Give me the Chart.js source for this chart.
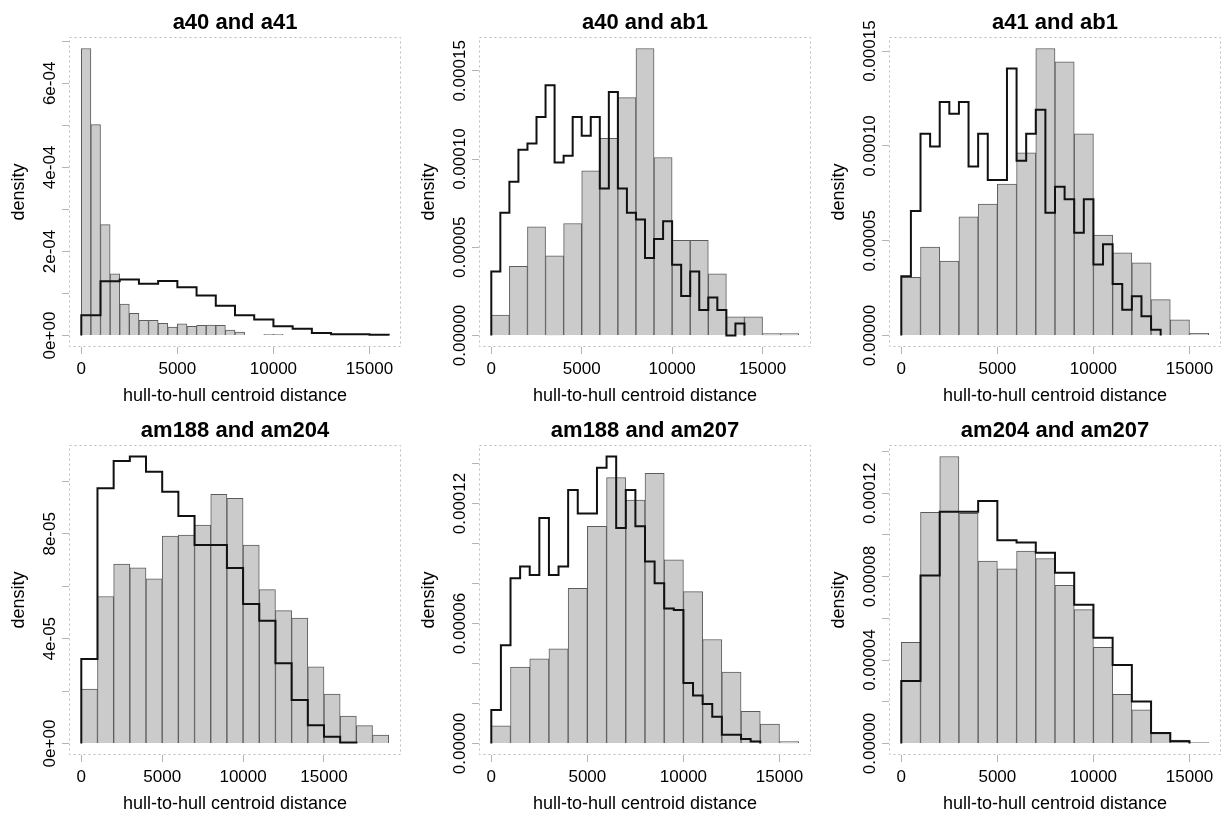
<!DOCTYPE html>
<html>
<head>
<meta charset="utf-8">
<script src="https://cdn.jsdelivr.net/npm/chart.js@4.4.1/dist/chart.umd.min.js"></script>
<style>
    body { margin: 0; background: #fff; width: 1232px; height: 819px; position: relative; overflow: hidden; }
    canvas { position: absolute; }
</style>
</head>
<body>
<canvas id="p0" width="410" height="408" style="left:0px;top:0px"></canvas>
<canvas id="p1" width="410" height="408" style="left:410px;top:0px"></canvas>
<canvas id="p2" width="410" height="408" style="left:820px;top:0px"></canvas>
<canvas id="p3" width="410" height="408" style="left:0px;top:408px"></canvas>
<canvas id="p4" width="410" height="408" style="left:410px;top:408px"></canvas>
<canvas id="p5" width="410" height="408" style="left:820px;top:408px"></canvas>
<script>
// panel titles and histogram bin widths (grey bars / black outline)
const titles = ['a40 and a41', 'a40 and ab1', 'a41 and ab1', 'am188 and am204', 'am188 and am207', 'am204 and am207'];
const greyBinWidth = [500, 1000, 1000, 1000, 1000, 1000];
const blackBinWidth = [1000, 500, 500, 1000, 500, 1000];

// densities, one value per bin starting at 0
const a40a41Grey = [68.3e-5, 50.2e-5, 26.4e-5, 14.7e-5, 7.5e-5, 5.3e-5, 3.6e-5, 3.6e-5, 2.9e-5, 2.0e-5, 2.8e-5, 2.2e-5, 2.4e-5, 2.5e-5, 2.4e-5, 1.3e-5, 0.8e-5, 0, 0, 0.3e-5, 0.3e-5];
const a40a41Black = [4.8e-5, 12.9e-5, 13.3e-5, 12.3e-5, 13.0e-5, 11.5e-5, 9.5e-5, 7.1e-5, 4.8e-5, 3.8e-5, 2.2e-5, 1.6e-5, 0.6e-5, 0.3e-5, 0.3e-5, 0.2e-5];

const a40ab1Grey = [1.16e-5, 3.92e-5, 6.16e-5, 4.52e-5, 6.35e-5, 9.33e-5, 11.18e-5, 13.48e-5, 16.27e-5, 10.09e-5, 5.40e-5, 5.40e-5, 3.50e-5, 1.06e-5, 1.06e-5, 0.11e-5, 0.11e-5];
const a40ab1Black = [3.63e-5, 6.96e-5, 8.71e-5, 10.53e-5, 10.89e-5, 12.38e-5, 14.18e-5, 9.81e-5, 10.19e-5, 12.38e-5, 11.33e-5, 12.38e-5, 8.33e-5, 13.80e-5, 8.33e-5, 6.96e-5, 6.58e-5, 4.39e-5, 5.47e-5, 6.48e-5, 4.01e-5, 2.24e-5, 3.63e-5, 1.44e-5, 2.15e-5, 1.44e-5, 0, 0.68e-5];

const a41ab1Grey = [3.07e-5, 4.66e-5, 3.92e-5, 6.26e-5, 6.93e-5, 7.99e-5, 9.63e-5, 15.14e-5, 14.44e-5, 10.64e-5, 5.30e-5, 4.36e-5, 3.83e-5, 1.89e-5, 0.83e-5, 0.12e-5];
const a41ab1Black = [3.13e-5, 6.57e-5, 10.64e-5, 9.97e-5, 12.32e-5, 11.70e-5, 12.32e-5, 8.91e-5, 10.64e-5, 8.20e-5, 8.20e-5, 14.08e-5, 9.22e-5, 10.64e-5, 11.91e-5, 6.48e-5, 7.85e-5, 7.19e-5, 5.42e-5, 7.19e-5, 3.75e-5, 4.81e-5, 2.72e-5, 1.36e-5, 2.07e-5, 1.01e-5, 0.30e-5];

const am188am204Grey = [2.08e-5, 5.61e-5, 6.85e-5, 6.70e-5, 6.28e-5, 7.91e-5, 7.95e-5, 8.33e-5, 9.51e-5, 9.35e-5, 7.57e-5, 5.87e-5, 5.07e-5, 4.79e-5, 2.93e-5, 1.89e-5, 1.05e-5, 0.68e-5, 0.32e-5];
const am188am204Black = [3.22e-5, 9.74e-5, 10.78e-5, 10.95e-5, 10.37e-5, 9.60e-5, 8.68e-5, 7.57e-5, 7.57e-5, 6.70e-5, 5.32e-5, 4.68e-5, 3.06e-5, 1.66e-5, 0.70e-5, 0.26e-5, 0.04e-5];

const am188am207Grey = [0.89e-5, 3.82e-5, 4.24e-5, 4.74e-5, 7.76e-5, 10.86e-5, 13.29e-5, 12.17e-5, 13.51e-5, 9.18e-5, 7.59e-5, 5.20e-5, 3.57e-5, 1.61e-5, 0.97e-5, 0.10e-5];
const am188am207Black = [1.68e-5, 4.91e-5, 8.26e-5, 8.85e-5, 8.43e-5, 11.28e-5, 8.43e-5, 8.85e-5, 12.67e-5, 11.50e-5, 11.50e-5, 13.79e-5, 14.35e-5, 10.78e-5, 12.67e-5, 10.86e-5, 9.10e-5, 8.01e-5, 6.75e-5, 6.67e-5, 3.02e-5, 2.40e-5, 1.98e-5, 1.34e-5, 0.44e-5, 0.44e-5, 0.22e-5, 0.10e-5];

const am204am207Grey = [4.85e-5, 11.08e-5, 13.76e-5, 11.03e-5, 8.74e-5, 8.38e-5, 9.22e-5, 8.87e-5, 7.58e-5, 6.42e-5, 4.61e-5, 2.36e-5, 1.61e-5, 0.48e-5, 0.16e-5, 0.05e-5];
const am204am207Black = [3.00e-5, 8.06e-5, 11.11e-5, 11.11e-5, 11.63e-5, 9.75e-5, 9.64e-5, 9.14e-5, 8.19e-5, 6.65e-5, 5.07e-5, 3.77e-5, 2.02e-5, 0.51e-5, 0.11e-5];

// axis ticks
const xTickValues = [0, 5000, 10000, 15000];
const yTickStep = [1e-4, 5e-5, 5e-5, 2e-5, 2e-5, 2e-5];
const yLabelValues = [
    [0, 2e-4, 4e-4, 6e-4],
    [0, 5e-5, 1e-4, 1.5e-4],
    [0, 5e-5, 1e-4, 1.5e-4],
    [0, 4e-5, 8e-5],
    [0, 6e-5, 1.2e-4],
    [0, 4e-5, 8e-5, 1.2e-4]
];
const yLabelText = [
    ['0e+00', '2e-04', '4e-04', '6e-04'],
    ['0.00000', '0.00005', '0.00010', '0.00015'],
    ['0.00000', '0.00005', '0.00010', '0.00015'],
    ['0e+00', '4e-05', '8e-05'],
    ['0.00000', '0.00006', '0.00012'],
    ['0.00000', '0.00004', '0.00008', '0.00012']
];

const greySeries = [a40a41Grey, a40ab1Grey, a41ab1Grey, am188am204Grey, am188am207Grey, am204am207Grey];
const blackSeries = [a40a41Black, a40ab1Black, a41ab1Black, am188am204Black, am188am207Black, am204am207Black];

const family = '"Liberation Sans", Arial, Helvetica, sans-serif';
Chart.defaults.font.family = family;
Chart.defaults.color = '#000';

// faint dotted frame round the plot region
const plotBox = {
    id: 'plotBox',
    beforeDatasetsDraw(chart) {
        const a = chart.chartArea;
        const ctx = chart.ctx;
        ctx.save();
        ctx.strokeStyle = '#bcbcbc';
        ctx.lineWidth = 1;
        ctx.setLineDash([2, 3]);
        ctx.strokeRect(a.left + 0.5, a.top + 0.5, a.width - 1, a.height - 1);
        ctx.restore();
    }
};

function widestLabel(texts, size) {
    const ctx = document.createElement('canvas').getContext('2d');
    ctx.font = size + 'px ' + family;
    return Math.max(...texts.map(t => ctx.measureText(t).width));
}

function buildPanel(i) {
    const grey = greySeries[i];
    const black = blackSeries[i];
    const gw = greyBinWidth[i];
    const bw = blackBinWidth[i];

    // bars sit on bin centres
    const greyPts = grey.map((v, k) => ({ x: gw * k + gw / 2, y: v }));
    // outline: up from 0 at the first edge, across each bin, down after the last
    const blackPts = [{ x: 0, y: 0 }];
    black.forEach((v, k) => blackPts.push({ x: bw * k, y: v }));
    blackPts.push({ x: bw * black.length, y: 0 });

    const xEnd = Math.max(gw * grey.length, bw * black.length);
    const yTop = Math.max(...grey, ...black);
    const step = yTickStep[i];
    const yTicks = [];
    for (let k = 0; k * step <= 1.04 * yTop; k++) yTicks.push(k * step);

    const tickSize = 17;
    const tickLen = 7;
    const yPad = 19 - tickLen - widestLabel(yLabelText[i], tickSize) / 2;

    new Chart(document.getElementById('p' + i), {
        type: 'bar',
        data: {
            datasets: [{
                type: 'bar',
                data: greyPts,
                backgroundColor: '#cbcbcb',
                borderColor: '#5c5c5c',
                borderWidth: 1,
                barPercentage: 1,
                categoryPercentage: 1,
                grouped: false,
                order: 2
            }, {
                type: 'line',
                data: blackPts,
                stepped: true,
                borderColor: '#111',
                borderWidth: 2,
                pointRadius: 0,
                fill: false,
                order: 1
            }]
        },
        options: {
            responsive: false,
            animation: false,
            devicePixelRatio: 1,
            layout: { padding: { left: 0, right: 9, top: 0, bottom: 0 } },
            plugins: {
                legend: { display: false },
                tooltip: { enabled: false },
                title: {
                    display: true,
                    fullSize: false,
                    text: titles[i],
                    color: '#000',
                    font: { size: 22, weight: 'bold' },
                    padding: { top: 10, bottom: 0.6 }
                }
            },
            scales: {
                x: {
                    type: 'linear',
                    min: -0.04 * xEnd,
                    max: 1.04 * xEnd,
                    offset: false,
                    border: { display: false },
                    grid: { offset: false, drawOnChartArea: false, tickLength: tickLen, color: '#b4b4b4' },
                    afterBuildTicks: s => { s.ticks = xTickValues.map(v => ({ value: v })); },
                    ticks: {
                        autoSkip: false,
                        maxRotation: 0,
                        padding: 4.8,
                        font: { size: tickSize },
                        callback: v => String(v)
                    },
                    title: {
                        display: true,
                        text: 'hull-to-hull centroid distance',
                        font: { size: 18 },
                        padding: { top: 0, bottom: 1 }
                    },
                    afterFit: s => { s.height = 61; }
                },
                y: {
                    type: 'linear',
                    min: -0.04 * yTop,
                    max: 1.04 * yTop,
                    border: { display: false },
                    grid: { drawOnChartArea: false, tickLength: tickLen, color: '#b4b4b4' },
                    afterBuildTicks: s => { s.ticks = yTicks.map(v => ({ value: v })); },
                    ticks: {
                        autoSkip: false,
                        minRotation: 90,
                        maxRotation: 90,
                        crossAlign: 'center',
                        padding: yPad,
                        font: { size: tickSize },
                        callback: v => {
                            const k = yLabelValues[i].findIndex(t => Math.abs(t - v) < step * 1e-3);
                            return k < 0 ? '' : yLabelText[i][k];
                        }
                    },
                    title: {
                        display: true,
                        text: 'density',
                        font: { size: 18 },
                        padding: { top: 8.7, bottom: 0 }
                    },
                    afterFit: s => { s.width = 69; }
                }
            }
        },
        plugins: [plotBox]
    });
}

for (let i = 0; i < 6; i++) buildPanel(i);
</script>
</body>
</html>
